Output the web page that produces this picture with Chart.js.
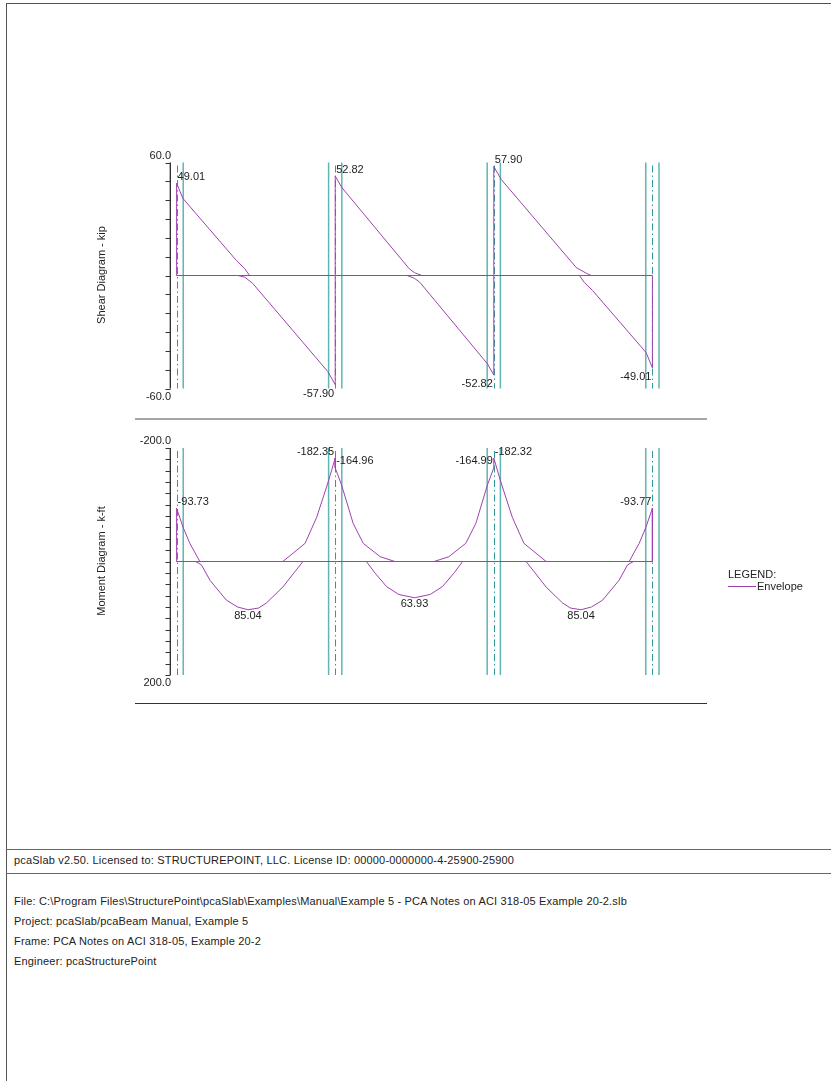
<!DOCTYPE html>
<html>
<head>
<meta charset="utf-8">
<title>pcaSlab - Shear and Moment Diagrams</title>
<script src="https://cdn.jsdelivr.net/npm/chart.js@4.4.0/dist/chart.umd.min.js"></script>
<style>
  body { margin: 0; background: #fff; font-family: "Liberation Sans", Arial, sans-serif; color: #222; }
  #page { position: relative; width: 831px; height: 1081px; overflow: hidden; background: #fff; }
  .rule { position: absolute; }
  .txt { position: absolute; font-size: 11px; line-height: 13px; white-space: nowrap; color: #222; }
  .foot { letter-spacing: 0.18px; }
  .ytitle { position: absolute; font-size: 11px; white-space: nowrap; color: #222;
            transform: translate(-50%, -50%) rotate(-90deg); }
  canvas { position: absolute; left: 0; }
</style>
</head>
<body>
<div id="page">
  <!-- page frame -->
  <div class="rule" style="left:6px; top:3px; width:825px; height:1px; background:#555;"></div>
  <div class="rule" style="left:6px; top:3px; width:1px; height:1078px; background:#555;"></div>

  <canvas id="shearChart" width="831" height="290" style="top:130px;"></canvas>
  <canvas id="momentChart" width="831" height="290" style="top:420px;"></canvas>

  <!-- diagram underlines -->
  <div class="rule" style="left:135px; top:418px; width:572px; height:2px; background:#a6a6a6;"></div>
  <div class="rule" style="left:135px; top:703px; width:572px; height:1px; background:#333;"></div>

  <div class="ytitle" style="left:101px; top:275px;">Shear Diagram - kip</div>
  <div class="ytitle" style="left:101px; top:561px;">Moment Diagram - k-ft</div>

  <!-- legend -->
  <div class="txt" style="left:728px; top:568px;">LEGEND:</div>
  <div class="rule" style="left:728px; top:586px; width:28px; height:1px; background:#a040b0;"></div>
  <div class="txt" style="left:757px; top:580px;">Envelope</div>

  <!-- footer -->
  <div class="rule" style="left:6px; top:849px; width:825px; height:1px; background:#666;"></div>
  <div class="rule" style="left:6px; top:873px; width:825px; height:1px; background:#666;"></div>
  <div class="txt foot" style="left:14px; top:854px;">pcaSlab v2.50. Licensed to: STRUCTUREPOINT, LLC. License ID: 00000-0000000-4-25900-25900</div>
  <div class="txt foot" style="left:14px; top:895px;">File: C:\Program Files\StructurePoint\pcaSlab\Examples\Manual\Example 5 - PCA Notes on ACI 318-05 Example 20-2.slb</div>
  <div class="txt foot" style="left:14px; top:915px;">Project: pcaSlab/pcaBeam Manual, Example 5</div>
  <div class="txt foot" style="left:14px; top:935px;">Frame: PCA Notes on ACI 318-05, Example 20-2</div>
  <div class="txt foot" style="left:14px; top:955px;">Engineer: pcaStructurePoint</div>
</div>

<script>
// geometry of the frame (ft)
const supportsFt = [0, 30, 60, 90];
const columnHalfFt = 1.25;

// shear envelope (kip)
const shearMaxX = [0, 0, 1.2, 11.3, 12.9, 13.8, 30, 30, 31.2, 44.0, 45.0, 46.4, 60, 60, 61.4, 75.6, 77.5, 78.4, 90];
const shearMaxV = [0, 49.01, 40.9, 8.0, 3.6, 0, 0, 52.82, 46.9, 3.6, 1.5, 0, 0, 57.90, 51.0, 4.2, 1.2, 0, 0];
const shearMinX = [0, 11.6, 12.9, 14.4, 28.6, 30, 30, 43.6, 45.0, 46.0, 58.8, 60, 60, 76.2, 77.1, 78.7, 88.8, 90, 90];
const shearMinV = [0, 0, -0.9, -4.2, -51.0, -57.90, 0, 0, -1.5, -3.6, -46.9, -52.82, 0, 0, -3.6, -8.0, -40.9, -49.01, 0];

// moment envelope (k-ft), negative moment plotted upwards
const momentNegX = [0, 0, 1.2, 2.5, 4.4, 20.1, 24.3, 26.5, 28.7, 30, 30, 31.2, 33.4, 35.3, 38.5, 41.3,
                    48.7, 51.5, 54.7, 56.6, 58.8, 60, 60, 61.3, 63.5, 65.7, 69.9, 85.6, 87.5, 88.8, 90, 90];
const momentNegV = [0, -93.73, -61, -32, 0, 0, -32, -78, -141, -182.35, -164.96, -135, -67, -32, -8.5, 0,
                    0, -8.5, -32, -67, -135, -164.99, -182.32, -141, -78, -32, 0, 0, -32, -61, -93.77, 0];
const momentPosX = [0, 3.6, 4.7, 6.3, 9.4, 11.5, 13.5, 15.5, 17.0, 20.1, 22.2, 23.9,
                    35.9, 37.5, 39.7, 42.0, 45.0, 48.0, 50.3, 52.5, 54.1,
                    66.1, 67.8, 69.9, 73.0, 74.5, 76.5, 78.5, 80.6, 83.7, 85.3, 86.4, 90];
const momentPosV = [0, 0, 6, 33, 68, 80, 85.04, 82, 73, 45, 20, 0,
                    0, 20, 44, 58, 63.93, 58, 44, 20, 0,
                    0, 20, 45, 73, 82, 85.04, 80, 68, 33, 6, 0, 0];

// axis ticks
const shearTicks = [60, 50, 40, 30, 20, 10, 0, -10, -20, -30, -40, -50, -60];
const momentTicks = [-200, -180, -160, -140, -120, -100, -80, -60, -40, -20, 0,
                     20, 40, 60, 80, 100, 120, 140, 160, 180, 200];

// value labels; side: +1 span to the right of the support, -1 span to the left, 0 mid-span
const shearLabelX = [0, 30, 60, 30, 60, 90];
const shearLabelV = [49.01, 52.82, 57.90, -57.90, -52.82, -49.01];
const shearLabelSide = [1, 1, 1, -1, -1, -1];
const momentLabelX = [0, 30, 30, 60, 60, 90, 13.5, 45, 76.5];
const momentLabelV = [-93.73, -182.35, -164.96, -164.99, -182.32, -93.77, 85.04, 63.93, 85.04];
const momentLabelSide = [1, -1, 1, -1, 1, -1, 0, 0, 0];

const PURPLE = '#a040b0';
const TEAL = '#62b4b4';
const TEAL_DARK = '#2f9898';
const FONT = '11px "Liberation Sans", Arial, sans-serif';

function zip(xs, ys) {
    return xs.map((x, i) => ({x: x, y: ys[i]}));
}

function makeDiagramPlugin(cfg) {
    return {
        id: 'diagram',
        beforeDatasetsDraw(chart) {
            const {ctx, chartArea: a, scales: {x}} = chart;
            ctx.save();
            // column faces and centrelines
            supportsFt.forEach(s => {
                ctx.setLineDash([]);
                ctx.strokeStyle = TEAL;
                ctx.lineWidth = 1.5;
                [s - columnHalfFt, s + columnHalfFt].forEach(f => {
                    const px = x.getPixelForValue(f);
                    ctx.beginPath();
                    ctx.moveTo(px, a.top);
                    ctx.lineTo(px, a.bottom);
                    ctx.stroke();
                });
                const cx = Math.round(x.getPixelForValue(s)) + 0.5;
                ctx.strokeStyle = TEAL_DARK;
                ctx.lineWidth = 1;
                ctx.setLineDash([7, 3, 1.5, 3]);
                ctx.beginPath();
                ctx.moveTo(cx, a.top + 3);
                ctx.lineTo(cx, a.bottom);
                ctx.stroke();
            });
            ctx.restore();
        },
        afterDatasetsDraw(chart) {
            const {ctx, chartArea: a, scales: {x, y}} = chart;
            ctx.save();
            // zero line of the member, slipped in behind the envelope
            ctx.globalCompositeOperation = 'destination-over';
            ctx.strokeStyle = PURPLE;
            ctx.lineWidth = 1;
            const zy = y.getPixelForValue(0);
            ctx.beginPath();
            ctx.moveTo(x.getPixelForValue(supportsFt[0]), zy);
            ctx.lineTo(x.getPixelForValue(supportsFt[supportsFt.length - 1]), zy);
            ctx.stroke();
            ctx.globalCompositeOperation = 'source-over';

            // vertical axis with ticks on the left
            const ax = Math.round(a.left) + 0.5;
            ctx.strokeStyle = '#333';
            ctx.setLineDash([]);
            ctx.beginPath();
            ctx.moveTo(ax, a.top);
            ctx.lineTo(ax, a.bottom);
            cfg.ticks.forEach(t => {
                const py = Math.round(y.getPixelForValue(t)) + 0.5;
                ctx.moveTo(ax - 5, py);
                ctx.lineTo(ax, py);
            });
            ctx.stroke();

            ctx.font = FONT;
            ctx.fillStyle = '#222';
            ctx.textBaseline = 'middle';
            // end values of the axis
            const first = cfg.ticks[0], last = cfg.ticks[cfg.ticks.length - 1];
            ctx.textAlign = 'right';
            ctx.fillText(first.toFixed(1), a.left + 1, a.top - 7);
            ctx.fillText(last.toFixed(1), a.left + 1, a.bottom + 8);

            // value labels
            cfg.labelX.forEach((lx, i) => {
                const v = cfg.labelV[i];
                const side = cfg.labelSide[i];
                const px = x.getPixelForValue(lx);
                const py = y.getPixelForValue(v);
                const up = cfg.reverse ? v < 0 : v > 0;
                ctx.textAlign = side > 0 ? 'left' : (side < 0 ? 'right' : 'center');
                const dx = side > 0 ? 1 : (side < 0 ? -1 : 0);
                const dy = up ? -6.5 : (side === 0 ? 6.5 : 9);
                ctx.fillText(v.toFixed(2), px + dx, py + dy);
            });
            ctx.restore();
        }
    };
}

function makeChart(id, cfg) {
    const line = {showLine: true, borderWidth: 1, pointRadius: 0, tension: 0, fill: false};
    return new Chart(document.getElementById(id), {
        type: 'scatter',
        data: {
            datasets: [
                Object.assign({label: 'Envelope', data: zip(cfg.aX, cfg.aV), borderColor: PURPLE}, line),
                Object.assign({label: 'Envelope', data: zip(cfg.bX, cfg.bV), borderColor: PURPLE}, line)
            ]
        },
        options: {
            responsive: false,
            animation: false,
            devicePixelRatio: 1,
            layout: {padding: {left: 170, right: 172, top: cfg.padTop, bottom: cfg.padBottom}},
            scales: {
                x: {type: 'linear', display: false, min: -columnHalfFt, max: 90 + columnHalfFt},
                y: {type: 'linear', display: false, min: cfg.min, max: cfg.max, reverse: cfg.reverse}
            },
            plugins: {legend: {display: false}, tooltip: {enabled: false}, title: {display: false}}
        },
        plugins: [makeDiagramPlugin(cfg)]
    });
}

makeChart('shearChart', {
    aX: shearMaxX, aV: shearMaxV, bX: shearMinX, bV: shearMinV,
    min: -60, max: 60, reverse: false, padTop: 32.5, padBottom: 31.5,
    ticks: shearTicks, labelX: shearLabelX, labelV: shearLabelV, labelSide: shearLabelSide
});

makeChart('momentChart', {
    aX: momentNegX, aV: momentNegV, bX: momentPosX, bV: momentPosV,
    min: -200, max: 200, reverse: true, padTop: 28, padBottom: 35,
    ticks: momentTicks, labelX: momentLabelX, labelV: momentLabelV, labelSide: momentLabelSide
});
</script>
</body>
</html>
